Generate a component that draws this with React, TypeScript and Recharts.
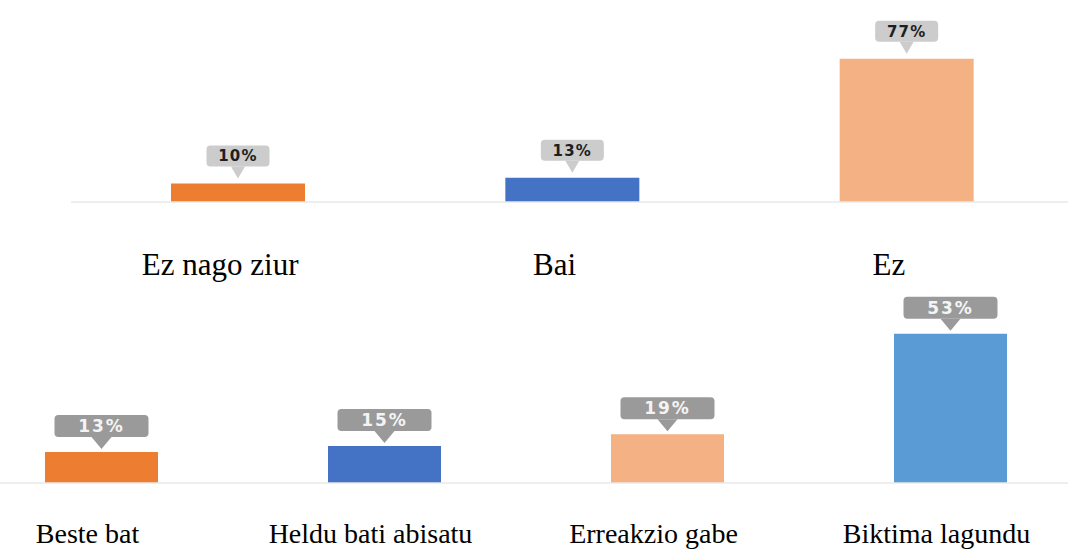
import React from 'react';
import { BarChart, Bar, XAxis, YAxis, Cell, LabelList } from 'recharts';

const topCategories = ['Ez nago ziur', 'Bai', 'Ez'];
const topValues = [10, 13, 77];

const bottomCategories = ['Beste bat', 'Heldu bati abisatu', 'Erreakzio gabe', 'Biktima lagundu'];
const bottomValues = [13, 15, 19, 53];

const topColors = ['#ED7D31', '#4472C4', '#F4B183'];
const bottomColors = ['#ED7D31', '#4472C4', '#F4B183', '#5B9BD5'];

const topData = topCategories.map((name, i) => ({ name, value: topValues[i] }));
const bottomData = bottomCategories.map((name, i) => ({ name, value: bottomValues[i] }));

// callout bubble with a little pointer, like the excel data labels
const makeCallout = (opts: {
    w: number; h: number; tri: number; triW: number; gap: number;
    fill: string; color: string; fontSize: number; spacing: number;
}) => (props: any) => {
    const { x, y, width, value } = props;
    const cx = Number(x) + Number(width) / 2;
    const tip = Number(y) - opts.gap;
    const boxBottom = tip - opts.tri;
    const boxTop = boxBottom - opts.h;
    return (
        <g>
            <rect x={cx - opts.w / 2} y={boxTop} width={opts.w} height={opts.h} rx={4} fill={opts.fill} />
            <path
                d={`M${cx - opts.triW / 2},${boxBottom} L${cx + opts.triW / 2},${boxBottom} L${cx},${tip} Z`}
                fill={opts.fill}
            />
            <text
                x={cx}
                y={boxTop + opts.h / 2}
                dy="0.36em"
                textAnchor="middle"
                fontFamily="DejaVu Sans"
                fontWeight="bold"
                fontSize={opts.fontSize}
                letterSpacing={opts.spacing}
                fill={opts.color}
            >
                {value}%
            </text>
        </g>
    );
};

const topCallout = makeCallout({ w: 63, h: 21, tri: 12, triW: 14, gap: 5, fill: '#cccccc', color: '#1e1e1e', fontSize: 15, spacing: 1.2 });
const bottomCallout = makeCallout({ w: 94, h: 22, tri: 12, triW: 20, gap: 3, fill: '#9a9a9a', color: '#f4f4f4', fontSize: 17, spacing: 2 });

const makeTick = (dx: number, dy: number, fontSize: number) => (props: any) => {
    const { x, y, payload } = props;
    return (
        <text x={x + dx} y={y + dy} textAnchor="middle" fontFamily="Liberation Serif" fontSize={fontSize} fill="#000">
            {payload.value}
        </text>
    );
};

const App: React.FC = () => {
    return (
        <div style={{ position: 'fixed', left: 0, top: 0, width: 1068, height: 551, overflow: 'hidden', background: '#fff' }}>
            <div style={{ position: 'absolute', left: 0, top: 0 }}>
                <BarChart width={1080} height={290} data={topData} margin={{ top: 16, right: 6, left: 71, bottom: 0 }}>
                    <XAxis
                        dataKey="name"
                        interval={0}
                        height={88}
                        tickSize={0}
                        tickMargin={0}
                        tickLine={false}
                        axisLine={{ stroke: '#e8e8e8', strokeWidth: 1.5 }}
                        tick={makeTick(-18, 73, 31)}
                    />
                    <YAxis hide domain={[0, 100]} />
                    <Bar dataKey="value" barSize={134} isAnimationActive={false}>
                        {topData.map((d, i) => (
                            <Cell key={d.name} fill={topColors[i]} />
                        ))}
                        <LabelList dataKey="value" content={topCallout} />
                    </Bar>
                </BarChart>
            </div>
            <div style={{ position: 'absolute', left: -50, top: 290 }}>
                <BarChart width={1150} height={261} data={bottomData} margin={{ top: 23, right: 8, left: 10, bottom: 0 }}>
                    <XAxis
                        dataKey="name"
                        interval={0}
                        height={68}
                        tickSize={0}
                        tickMargin={0}
                        tickLine={false}
                        axisLine={{ stroke: '#e8e8e8', strokeWidth: 1.5 }}
                        tick={makeTick(-14, 60, 28)}
                    />
                    <YAxis hide domain={[2.5, 60]} allowDataOverflow />
                    <Bar dataKey="value" barSize={113} isAnimationActive={false}>
                        {bottomData.map((d, i) => (
                            <Cell key={d.name} fill={bottomColors[i]} />
                        ))}
                        <LabelList dataKey="value" content={bottomCallout} />
                    </Bar>
                </BarChart>
            </div>
        </div>
    );
};

export default App;
